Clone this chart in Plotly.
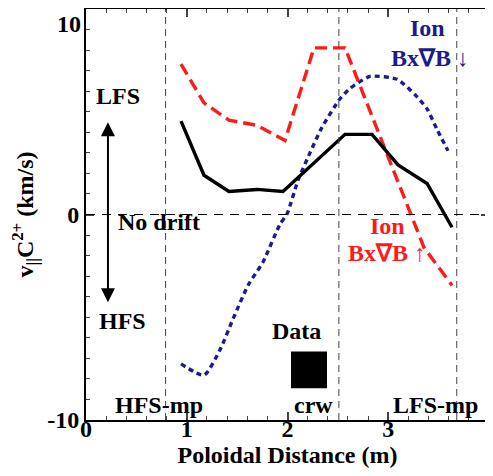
import plotly.graph_objects as go

# ---- data ----
net_x = [0.943, 1.171, 1.419, 1.697, 1.955, 2.571, 2.839, 3.097, 3.385, 3.633]
net_y = [4.54, 1.91, 1.12, 1.22, 1.12, 3.90, 3.90, 2.41, 1.51, -0.62]

up_x = [0.943, 1.171, 1.419, 1.697, 1.975, 2.263, 2.571, 3.355, 3.633]
up_y = [7.32, 5.43, 4.59, 4.34, 3.60, 8.11, 8.11, -1.61, -3.45]

down_x = [0.943, 1.171, 1.330, 1.459, 1.608, 1.757, 1.926, 1.995, 2.104, 2.223,
          2.342, 2.521, 2.620, 2.819, 3.087, 3.266, 3.385, 3.484, 3.593]
down_y = [-7.27, -7.82, -6.58, -5.09, -3.45, -2.31, -0.47, 0.02, 1.66, 3.00,
          4.24, 5.63, 6.13, 6.72, 6.58, 5.83, 5.14, 4.14, 3.10]

marker_lines_x = [0.79, 2.51, 3.68]
marker_labels = ["HFS-mp", "crw", "LFS-mp"]

x_tickvals = [0, 1, 2, 3, 4]
y_tickvals = [-10, 0, 10]
y_ticktext = ["-10", "0", "10"]

RED = "#ff1a1a"
NAVY = "#1b1b8a"
FONT = "Liberation Serif"

fig = go.Figure()
fig.add_trace(go.Scatter(x=down_x, y=down_y, mode="lines",
                         line=dict(color=NAVY, width=3.4, dash="5px,4px", shape="spline", smoothing=0.6)))
fig.add_trace(go.Scatter(x=up_x, y=up_y, mode="lines",
                         line=dict(color=RED, width=3.4, dash="12px,6px")))
fig.add_trace(go.Scatter(x=net_x, y=net_y, mode="lines",
                         line=dict(color="black", width=3.4)))

shapes = []
for xv in marker_lines_x:
    shapes.append(dict(type="line", xref="x", yref="paper", x0=xv, x1=xv, y0=0, y1=1,
                       line=dict(color="#444444", width=1, dash="7px,5px")))
shapes.append(dict(type="line", xref="paper", yref="y", x0=0, x1=1, y0=0, y1=0,
                   line=dict(color="black", width=1, dash="9px,7px")))
# legend key square for "Data"
shapes.append(dict(type="rect", xref="x", yref="y", x0=2.035, x1=2.392, y0=-8.46, y1=-6.67,
                   fillcolor="black", line=dict(width=0)))

def txt(x, y, s, color="black", size=24, xanchor="center"):
    return dict(x=x, y=y + 0.25, xref="x", yref="y", text="<b>" + s + "</b>", showarrow=False,
                xanchor=xanchor, yanchor="middle",
                font=dict(family=FONT, size=size, color=color))

ann = [
    txt(0.318, 5.5, "LFS"),
    txt(0.295, -0.62, "No drift", xanchor="left"),
    txt(0.36, -5.43, "HFS"),
    txt(0.72, -9.5, marker_labels[0]),
    txt(2.26, -9.5, marker_labels[1]),
    txt(3.47, -9.5, marker_labels[2]),
    txt(2.085, -5.93, "Data"),
    txt(3.39, 8.81, "Ion", NAVY),
    txt(3.41, 7.37, "Bx∇B ↓", NAVY),
    txt(2.99, -0.82, "Ion", RED),
    txt(2.99, -2.11, "Bx∇B ↑", RED),
    dict(x=0.218, y=4.49, ax=0.218, ay=-4.34, xref="x", yref="y", axref="x", ayref="y",
         text="", showarrow=True, arrowhead=2, arrowside="end+start",
         arrowwidth=2, arrowsize=1.4, arrowcolor="black"),
    # top y tick label, moved down (as in the reference) so it is not cut off at the edge
    dict(x=0, y=y_tickvals[-1], xref="paper", yref="y", text="<b>" + y_ticktext[-1] + "</b>",
         showarrow=False, xanchor="right", yanchor="middle", xshift=-3, yshift=-15,
         font=dict(family=FONT, size=24, color="black")),
]

# the page adds an 8px body margin, so the figure is sized/margined to compensate
fig.update_layout(
    width=485, height=468,
    margin=dict(l=78, r=4, t=1, b=56, autoexpand=False),
    paper_bgcolor="white", plot_bgcolor="white",
    showlegend=False,
    shapes=shapes, annotations=ann,
    font=dict(family=FONT, color="black"),
    xaxis=dict(range=[0, 4], tickvals=x_tickvals, ticktext=["<b>%d</b>" % v for v in x_tickvals],
               ticks="inside", ticklen=8, tickwidth=1.5, automargin=False,
               ticklabelstandoff=-14,
               minor=dict(dtick=0.2, ticks="inside", ticklen=4, tickwidth=1),
               showline=True, linewidth=2, linecolor="black", mirror="ticks",
               showgrid=False, zeroline=False,
               tickfont=dict(family=FONT, size=24),
               title=dict(text="<b>Poloidal Distance (m)</b>", standoff=4,
                          font=dict(family=FONT, size=24))),
    yaxis=dict(range=[-10, 10], tickvals=y_tickvals,
               ticktext=["<b>" + t + "</b>" for t in y_ticktext[:-1]] + [""],
               ticks="inside", ticklen=8, tickwidth=1.5, automargin=False,
               minor=dict(dtick=1, ticks="inside", ticklen=4, tickwidth=1),
               showline=True, linewidth=2, linecolor="black", mirror="ticks",
               showgrid=False, zeroline=False,
               tickfont=dict(family=FONT, size=24),
               title=dict(text="<b>v<sub>||</sub>C<sup>2+</sup> (km/s)</b>", standoff=8,
                          font=dict(family=FONT, size=24))),
)

fig.write_html("out.html")
